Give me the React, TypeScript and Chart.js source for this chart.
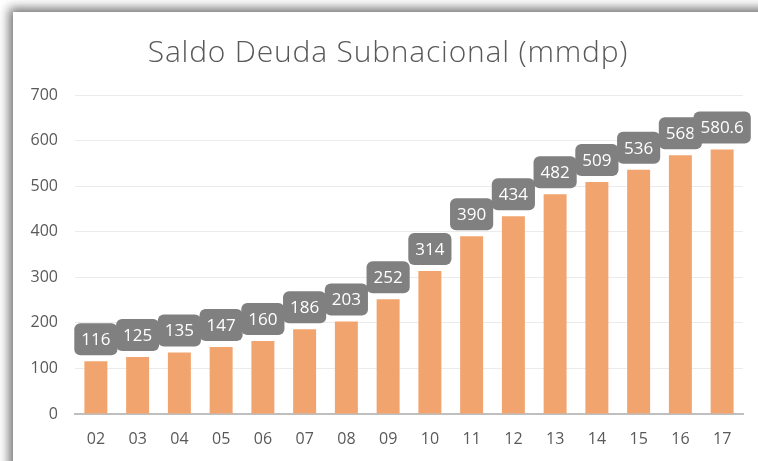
import React, { useEffect, useRef } from "react";
import { Chart, registerables } from "chart.js";

Chart.register(...registerables);

const categories = ["02", "03", "04", "05", "06", "07", "08", "09", "10", "11", "12", "13", "14", "15", "16", "17"];
const values = [116, 125, 135, 147, 160, 186, 203, 252, 314, 390, 434, 482, 509, 536, 568, 580.6];
const titleText = "Saldo Deuda Subnacional (mmdp)";

const FONT = "'Open Sans', 'Noto Sans', sans-serif";

const labelPlugin = {
  id: "boxLabels",
  afterDatasetsDraw(chart: any) {
    const ctx = chart.ctx;
    const meta = chart.getDatasetMeta(0);
    ctx.save();
    ctx.font = `17px ${FONT}`;
    ctx.textAlign = "center";
    ctx.textBaseline = "middle";
    meta.data.forEach((bar: any, i: number) => {
      const txt = String(values[i]);
      const w = ctx.measureText(txt).width + 14;
      const h = 32;
      const x = bar.x - w / 2;
      const y = bar.y - 6 - h;
      ctx.fillStyle = "#808080";
      ctx.beginPath();
      (ctx as any).roundRect(x, y, w, h, 6);
      ctx.fill();
      ctx.fillStyle = "#FFFFFF";
      ctx.fillText(txt, bar.x, y + h / 2 + 1);
    });
    ctx.restore();
  },
};

const titlePlugin = {
  id: "customTitle",
  afterDraw(chart: any) {
    const ctx = chart.ctx;
    ctx.save();
    ctx.font = `300 30px ${FONT}`;
    (ctx as any).letterSpacing = "0.8px";
    ctx.fillStyle = "#595959";
    ctx.textAlign = "center";
    ctx.textBaseline = "alphabetic";
    ctx.fillText(titleText, 388, 62);
    ctx.restore();
  },
};

export default function App() {
  const ref = useRef<HTMLCanvasElement | null>(null);
  useEffect(() => {
    document.body.style.margin = "0";
    const chart = new Chart(ref.current as HTMLCanvasElement, {
      type: "bar",
      data: {
        labels: categories,
        datasets: [
          {
            data: values,
            backgroundColor: "#F2A46E",
            barPercentage: 0.55,
            categoryPercentage: 1,
          },
        ],
      },
      options: {
        animation: false,
        responsive: false,
        maintainAspectRatio: false,
        layout: { padding: { left: 0, right: 15, top: 95, bottom: 0 } },
        plugins: {
          legend: { display: false },
          tooltip: { enabled: false },
          title: { display: false },
        },
        scales: {
          x: {
            grid: { display: false, drawTicks: false },
            border: { display: true, color: "#BFBFBF", width: 2 },
            ticks: { color: "#595959", font: { family: FONT, size: 16 }, padding: 16 },
            afterFit: (s: any) => {
              s.height = 47;
            },
          },
          y: {
            min: 0,
            max: 700,
            ticks: { stepSize: 100, color: "#595959", font: { family: FONT, size: 16 }, padding: 17 },
            grid: { color: "#EBEBEB", drawTicks: false, lineWidth: 1 },
            border: { display: false },
            afterFit: (s: any) => {
              s.width = 75;
            },
          },
        },
      },
      plugins: [labelPlugin, titlePlugin],
    });
    return () => chart.destroy();
  }, []);

  return (
    <div style={{ position: "fixed", left: 0, top: 0, width: 758, height: 461, background: "#FFFFFF", overflow: "hidden" }}>
      <div
        style={{
          position: "absolute",
          left: 13,
          top: 12,
          width: 780,
          height: 480,
          background: "#FFFFFF",
          boxShadow: "-4px -4px 10px rgba(0,0,0,0.55)",
        }}
      />
      <canvas ref={ref} width={758} height={461} style={{ position: "absolute", left: 0, top: 0 }} />
    </div>
  );
}
